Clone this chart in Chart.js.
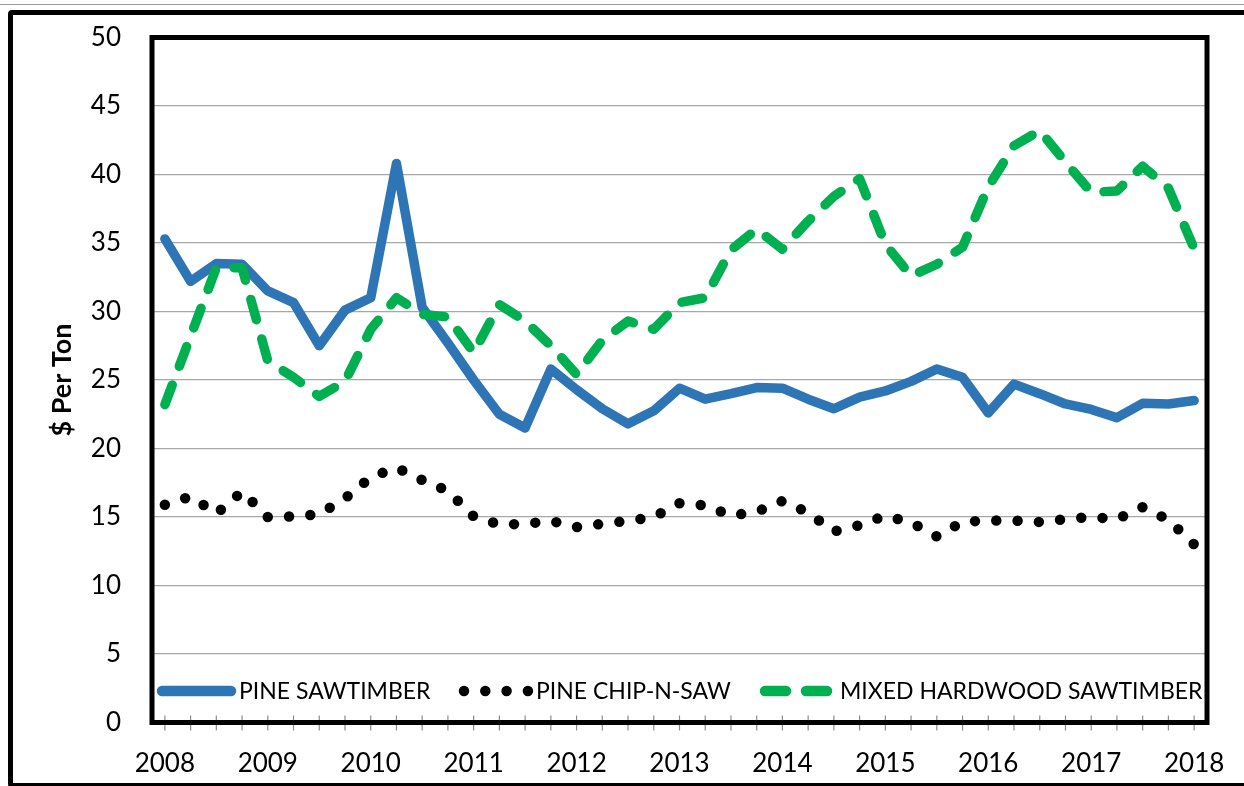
<!DOCTYPE html>
<html>
<head>
<meta charset="utf-8">
<script src="https://cdn.jsdelivr.net/npm/chart.js@4.4.1/dist/chart.umd.min.js"></script>
<style>
html,body{margin:0;padding:0;background:#fff;overflow:hidden;width:1244px;height:786px;}
#topline{position:absolute;left:0;top:4px;width:1244px;height:1px;background:#9a9a9a;}
#frame{position:absolute;left:8px;top:10px;width:1400px;height:768px;border:5px solid #000;border-radius:4px;}
canvas{position:absolute;left:0;top:0;}
</style>
</head>
<body>
<div id="topline"></div>
<div id="frame"></div>
<canvas id="c" width="1244" height="786"></canvas>
<script>
const quarters = [
  "2008 Q1","2008 Q2","2008 Q3","2008 Q4",
  "2009 Q1","2009 Q2","2009 Q3","2009 Q4",
  "2010 Q1","2010 Q2","2010 Q3","2010 Q4",
  "2011 Q1","2011 Q2","2011 Q3","2011 Q4",
  "2012 Q1","2012 Q2","2012 Q3","2012 Q4",
  "2013 Q1","2013 Q2","2013 Q3","2013 Q4",
  "2014 Q1","2014 Q2","2014 Q3","2014 Q4",
  "2015 Q1","2015 Q2","2015 Q3","2015 Q4",
  "2016 Q1","2016 Q2","2016 Q3","2016 Q4",
  "2017 Q1","2017 Q2","2017 Q3","2017 Q4",
  "2018 Q1"
];
const yearTicks = ["2008","2009","2010","2011","2012","2013","2014","2015","2016","2017","2018"];

const pineSawtimber = [
  35.3, 32.2, 33.5, 33.45,
  31.5, 30.65, 27.5, 30.1,
  31.0, 40.8, 30.3, 27.7,
  25.0, 22.5, 21.5, 25.8,
  24.3, 22.9, 21.8, 22.75,
  24.4, 23.6, 24.0, 24.45,
  24.4, 23.6, 22.9, 23.75,
  24.2, 24.9, 25.8, 25.2,
  22.6, 24.7, 24.0, 23.25,
  22.85, 22.25, 23.3, 23.25,
  23.5
];
const pineChipNSaw = [
  15.9, 16.5, 15.25, 16.85,
  15.0, 15.05, 15.2, 16.35,
  17.9, 18.6, 17.7, 16.9,
  15.05, 14.45, 14.5, 14.72,
  14.27, 14.5, 14.72, 15.0,
  16.0, 15.85, 15.1, 15.38,
  16.17, 15.32, 13.95, 14.4,
  15.1, 14.6, 13.58, 14.65,
  14.75, 14.74, 14.64, 14.85,
  15.0, 14.85, 15.72, 14.8,
  13.0
];
const mixedHardwood = [
  23.2, 28.2, 33.2, 33.2,
  26.4, 25.2, 23.8, 24.9,
  28.7, 31.0, 29.8, 29.6,
  27.0, 30.5, 29.3, 27.5,
  25.4, 27.9, 29.3, 28.7,
  30.65, 31.0, 34.5, 36.0,
  34.55, 36.6, 38.4, 39.7,
  34.9, 32.6, 33.45, 34.7,
  39.1, 42.1, 43.2, 40.9,
  38.7, 38.8, 40.6, 39.0,
  34.6
];

const FONT = 'Lato';

const framePlugin = {
  id: 'plotFrame',
  afterDatasetsDraw(chart) {
    const {ctx, chartArea: a, scales: {x}} = chart;
    ctx.save();
    ctx.strokeStyle = '#8c8c8c';
    ctx.lineWidth = 1.2;
    x.ticks.forEach((t, i) => {
      const px = x.getPixelForTick(i);
      ctx.beginPath();
      ctx.moveTo(px, a.bottom - 7);
      ctx.lineTo(px, a.bottom + 8);
      ctx.stroke();
    });
    ctx.strokeStyle = '#000';
    ctx.lineWidth = 5;
    ctx.strokeRect(a.left, a.top, a.right - a.left, a.bottom - a.top);
    ctx.restore();
  }
};

const legendLayout = [
  {x0: 162, x1: 231, tx: 239},
  {x0: 464, x1: 529.1, tx: 536},
  {x0: 765, x1: 828, tx: 840}
];
const insideLegend = {
  id: 'insideLegend',
  afterDraw(chart) {
    const ctx = chart.ctx;
    const baseY = 691;
    chart.data.datasets.forEach((ds, i) => {
      const L = legendLayout[i];
      ctx.save();
      ctx.strokeStyle = ds.borderColor;
      ctx.lineWidth = 10.5;
      ctx.lineCap = 'round';
      ctx.setLineDash(ds.borderDash || []);
      ctx.beginPath();
      ctx.moveTo(L.x0, baseY);
      ctx.lineTo(L.x1, baseY);
      ctx.stroke();
      ctx.setLineDash([]);
      ctx.fillStyle = '#000';
      ctx.font = '23px ' + FONT;
      ctx.textBaseline = 'alphabetic';
      ctx.textAlign = 'left';
      ctx.fillText(ds.label, L.tx, baseY + 8);
      ctx.restore();
    });
  }
};

const noScalePadding = s => {
  s.paddingTop = 0; s.paddingBottom = 0; s.paddingLeft = 0; s.paddingRight = 0;
};

new Chart(document.getElementById('c'), {
  type: 'line',
  data: {
    labels: quarters,
    datasets: [
      {label: 'PINE SAWTIMBER', data: pineSawtimber, borderColor: '#2E75B6', borderWidth: 9.5,
       pointRadius: 0, tension: 0, borderCapStyle: 'round', borderJoinStyle: 'round', order: 3},
      {label: 'PINE CHIP-N-SAW', data: pineChipNSaw, borderColor: '#000000', borderWidth: 10.5,
       borderDash: [0, 21.3], pointRadius: 0, tension: 0, borderCapStyle: 'round', borderJoinStyle: 'round', order: 2},
      {label: 'MIXED HARDWOOD SAWTIMBER', data: mixedHardwood, borderColor: '#00B050', borderWidth: 9.5,
       borderDash: [21, 20], pointRadius: 0, tension: 0, borderCapStyle: 'round', borderJoinStyle: 'round', order: 1}
    ]
  },
  options: {
    responsive: false,
    animation: false,
    devicePixelRatio: 1,
    layout: {autoPadding: false, padding: {top: 37.5, right: 37, left: 0, bottom: 0}},
    plugins: {legend: {display: false}, tooltip: {enabled: false}},
    scales: {
      x: {
        offset: true,
        grid: {display: false},
        border: {display: false},
        ticks: {
          autoSkip: false, maxRotation: 0, minRotation: 0, padding: 18,
          color: '#000', font: {family: FONT, size: 26},
          callback: (v, i) => (i % 4 === 0 ? yearTicks[i / 4] : '')
        },
        afterFit: s => { s.height = 63.5; noScalePadding(s); }
      },
      y: {
        min: 0, max: 50,
        ticks: {stepSize: 5, padding: 31, color: '#000', font: {family: FONT, size: 26}},
        grid: {color: '#A8A8A8', lineWidth: 1.3, drawTicks: false},
        border: {display: false},
        title: {display: true, text: '$ Per Ton', color: '#000',
                font: {family: FONT, size: 27, weight: 'bold'}, padding: {top: 46, bottom: 0}},
        afterFit: s => { s.width = 152; noScalePadding(s); }
      }
    }
  },
  plugins: [framePlugin, insideLegend]
});
</script>
</body>
</html>
